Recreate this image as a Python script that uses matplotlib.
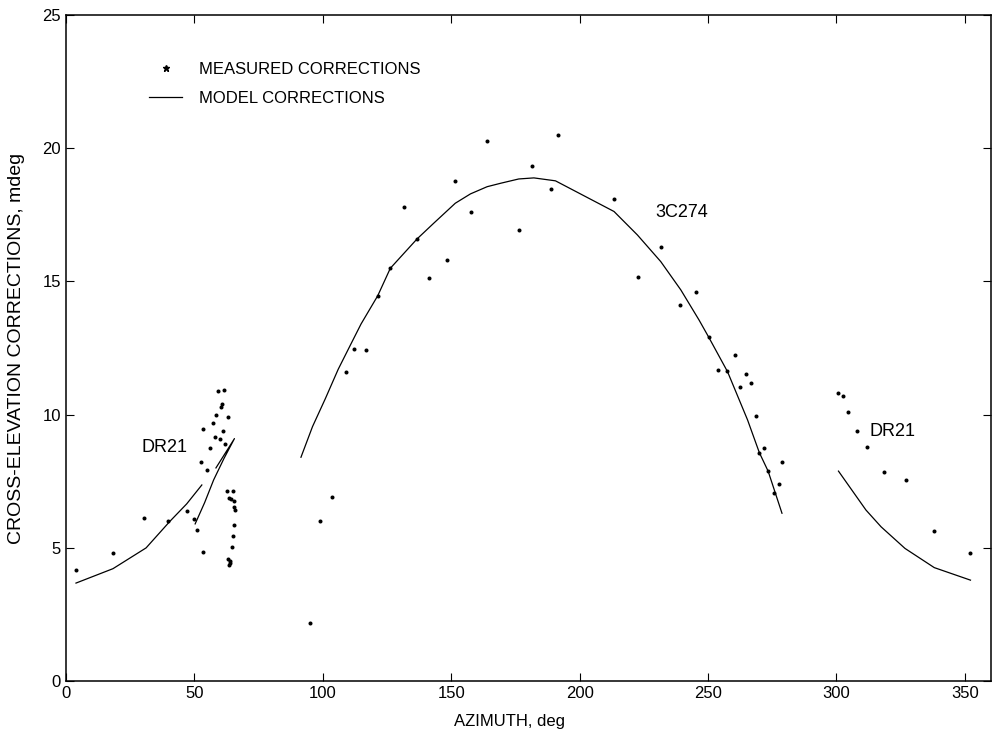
import matplotlib.pyplot as plt
from matplotlib.lines import Line2D

plt.rcParams['font.family'] = ['Liberation Sans', 'DejaVu Sans']

# measured cross-elevation corrections (mdeg) vs azimuth (deg)
dr21_az = [3.9, 18.5, 30.5, 39.9, 47.2, 49.9, 50.9, 53.2, 53.2, 52.6, 54.8, 56.0, 57.1,
           58.0, 58.3, 59.1, 60.1, 60.2, 60.7, 61.3, 61.5, 61.8, 62.9, 62.6, 64.9, 63.6,
           64.4, 65.3, 65.6, 65.7, 65.3, 65.1, 64.7, 63.1, 63.8, 64.0, 63.4]
dr21_corr = [4.18, 4.79, 6.11, 6.0, 6.38, 6.07, 5.67, 4.85, 9.46, 8.21, 7.91, 8.75, 9.67,
             9.15, 10.0, 10.9, 9.07, 10.3, 10.38, 9.38, 10.94, 8.9, 9.9, 7.14, 7.14, 6.89,
             6.85, 6.77, 6.54, 6.42, 5.86, 5.45, 5.02, 4.57, 4.52, 4.45, 4.36]

c274_az = [95.0, 98.8, 103.7, 108.9, 112.0, 117.0, 121.4, 126.3, 131.5, 136.7, 141.4, 148.2,
           151.5, 157.8, 164.0, 176.4, 181.4, 189.0, 191.5, 213.5, 222.7, 231.7, 238.9,
           245.5, 250.2, 253.8, 257.3, 260.5, 262.5, 264.8, 266.9, 268.5, 270.0, 271.7,
           273.4, 275.5, 277.5, 279.0]
c274_corr = [2.19, 6.02, 6.92, 11.61, 12.47, 12.41, 14.46, 15.49, 17.8, 16.59, 15.11, 15.8,
             18.77, 17.59, 20.28, 16.94, 19.34, 18.47, 20.5, 18.09, 15.17, 16.27, 14.13,
             14.6, 12.9, 11.67, 11.65, 12.23, 11.02, 11.51, 11.17, 9.95, 8.57, 8.75,
             7.88, 7.07, 7.41, 8.23]

dr21b_az = [300.7, 302.4, 304.6, 308.1, 312.0, 318.5, 326.9, 338.0, 352.2]
dr21b_corr = [10.8, 10.7, 10.08, 9.4, 8.78, 7.83, 7.53, 5.63, 4.82]

# model corrections
model1_az = [3.9, 18.3, 31.2, 40.5, 47.0, 52.9]
model1_corr = [3.68, 4.22, 5.0, 6.0, 6.65, 7.36]
model2_az = [50.3, 54.0, 57.5, 61.5, 65.6, 58.4]
model2_corr = [5.9, 6.7, 7.55, 8.35, 9.1, 8.0]
model3_az = [91.5, 96, 101, 106, 110.7, 114.9, 121.4, 126.3, 136.7, 143.2, 151.6, 157.5, 164,
             169.3, 176.3, 182.2, 190.6, 213.4, 222.5, 231.6, 239.4, 246.5, 250.3, 257.6,
             265.4, 270, 273.4, 278.8]
model3_corr = [8.4, 9.55, 10.6, 11.7, 12.6, 13.4, 14.46, 15.49, 16.59, 17.18, 17.93, 18.28,
               18.55, 18.68, 18.84, 18.88, 18.77, 17.62, 16.74, 15.74, 14.68, 13.55, 12.9,
               11.61, 9.8, 8.57, 7.88, 6.3]
model4_az = [300.8, 311.5, 317.4, 326.7, 338.1, 352.2]
model4_corr = [7.88, 6.42, 5.79, 4.98, 4.26, 3.79]

fig = plt.figure(figsize=(9.92, 7.38), dpi=100)
ax = fig.add_axes([0.0665, 0.077, 0.932, 0.903])

for az, c in [(dr21_az, dr21_corr), (c274_az, c274_corr), (dr21b_az, dr21b_corr)]:
    ax.plot(az, c, 'o', color='black', markersize=2.9, markeredgewidth=0)
for az, c in [(model1_az, model1_corr), (model2_az, model2_corr),
              (model3_az, model3_corr), (model4_az, model4_corr)]:
    ax.plot(az, c, '-', color='black', linewidth=0.9)

ax.text(29.5, 8.77, 'DR21', fontsize=13, va='center', ha='left')
ax.text(229.6, 17.57, '3C274', fontsize=13, va='center', ha='left')
ax.text(312.7, 9.38, 'DR21', fontsize=13, va='center', ha='left')

handles = [Line2D([], [], marker='*', linestyle='none', color='black', markersize=5),
           Line2D([], [], color='black', linewidth=0.9)]
ax.legend(handles, ['MEASURED CORRECTIONS', 'MODEL CORRECTIONS'], loc='upper left',
          bbox_to_anchor=(0.0898, 0.929), frameon=False, fontsize=12, handlelength=2.0,
          handletextpad=1.0, borderpad=0, borderaxespad=0, labelspacing=0.85)

ax.set_xlim(0, 360)
ax.set_ylim(0, 25)
ax.set_xticks(range(0, 351, 50))
ax.set_yticks(range(0, 26, 5))
ax.tick_params(direction='in', length=6, width=0.8, top=True, right=True, labelsize=12)
for s in ax.spines.values():
    s.set_linewidth(1.1)

ax.set_xlabel('AZIMUTH, deg', fontsize=12)
ax.set_ylabel('CROSS-ELEVATION CORRECTIONS, mdeg', fontsize=14)
ax.xaxis.set_label_coords(0.48, -0.05)
ax.yaxis.set_label_coords(-0.0445, 0.5)

plt.savefig('out.png', dpi=100)
